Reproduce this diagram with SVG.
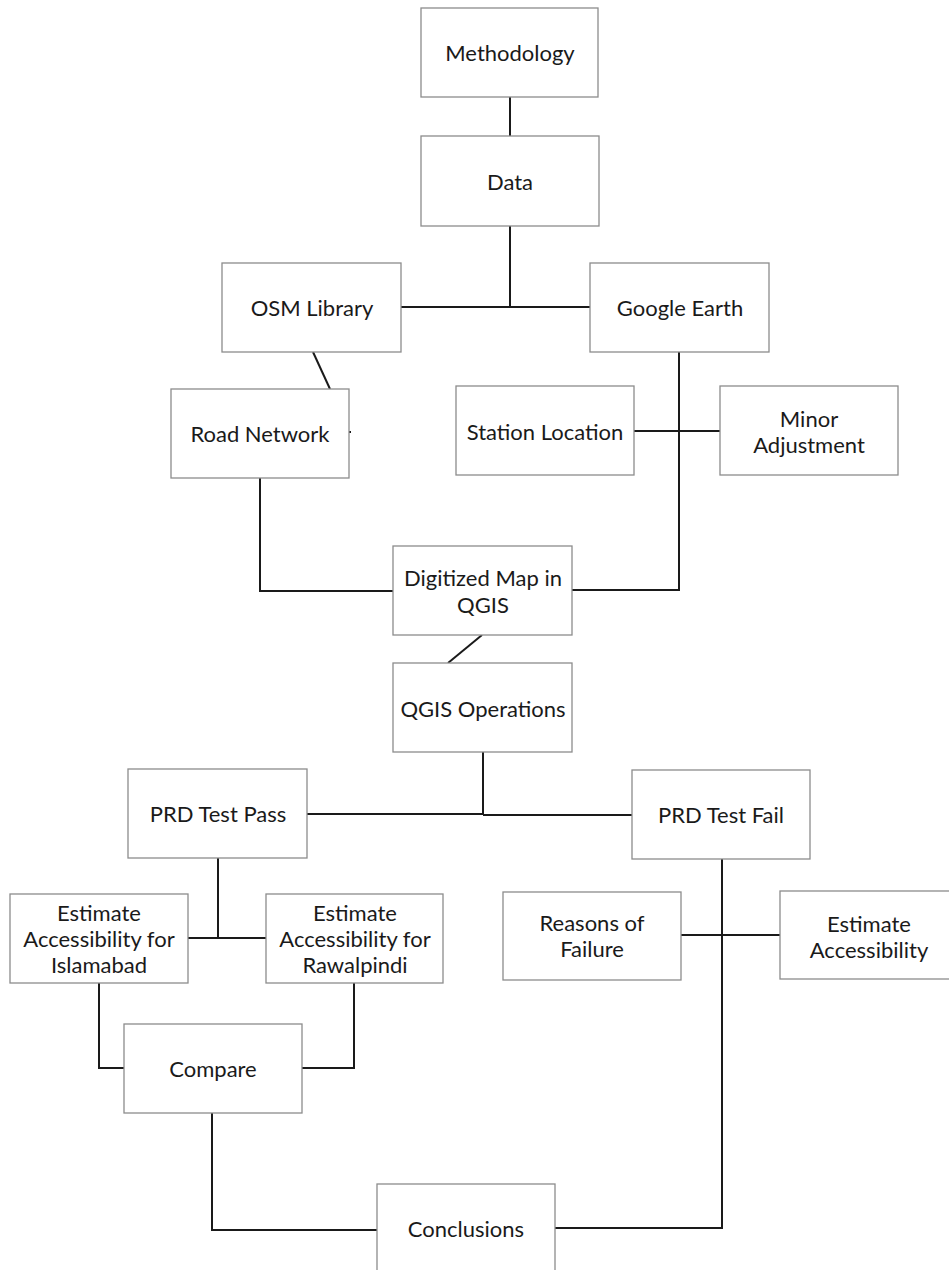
<svg xmlns="http://www.w3.org/2000/svg" width="949" height="1270" viewBox="0 0 949 1270">
<style>
.box{fill:#ffffff;stroke:#8c8c8c;stroke-width:1.3}
.lbl{font-family:Lato,"Open Sans","Liberation Sans",sans-serif;font-size:22px;fill:#1a1a1a;text-anchor:middle;dominant-baseline:central}
.con{fill:none;stroke:#1a1a1a;stroke-width:2;stroke-linejoin:miter}
</style>
<rect width="949" height="1270" fill="#ffffff"/>
<g id="connectors">
<path class="con" d="M510 97V136"/>
<path class="con" d="M510 226V307"/>
<path class="con" d="M401 307H590"/>
<path class="con" d="M313 352L330 389"/>
<path class="con" d="M349 432H351"/>
<path class="con" d="M260 478V591H393"/>
<path class="con" d="M679 352V590H572"/>
<path class="con" d="M634 431H720"/>
<path class="con" d="M482 635L448 663"/>
<path class="con" d="M483 752V815"/>
<path class="con" d="M307 814H483"/>
<path class="con" d="M483 815H632"/>
<path class="con" d="M218 858V938"/>
<path class="con" d="M188 938H266"/>
<path class="con" d="M681 935H780"/>
<path class="con" d="M722 859V1228H555"/>
<path class="con" d="M99 983V1068H124"/>
<path class="con" d="M354 983V1068H302"/>
<path class="con" d="M212 1113V1230H377"/>
</g>
<g id="methodology"><rect class="box" x="421" y="8" width="177" height="89"/><text class="lbl" x="510" y="52">Methodology</text></g>
<g id="data"><rect class="box" x="421" y="136" width="178" height="90"/><text class="lbl" x="510" y="181">Data</text></g>
<g id="osm-library"><rect class="box" x="222" y="263" width="179" height="89"/><text class="lbl" x="312" y="307">OSM Library</text></g>
<g id="google-earth"><rect class="box" x="590" y="263" width="179" height="89"/><text class="lbl" x="680" y="307">Google Earth</text></g>
<g id="road-network"><rect class="box" x="171" y="389" width="178" height="89"/><text class="lbl" x="260" y="433">Road Network</text></g>
<g id="station-location"><rect class="box" x="456" y="386" width="178" height="89"/><text class="lbl" x="545" y="431">Station Location</text></g>
<g id="minor-adjustment"><rect class="box" x="720" y="386" width="178" height="89"/><text class="lbl" x="809" y="418">Minor</text><text class="lbl" x="809" y="444">Adjustment</text></g>
<g id="digitized-map"><rect class="box" x="393" y="546" width="179" height="89"/><text class="lbl" x="483" y="577">Digitized Map in</text><text class="lbl" x="483" y="604">QGIS</text></g>
<g id="qgis-operations"><rect class="box" x="393" y="663" width="179" height="89"/><text class="lbl" x="483" y="708">QGIS Operations</text></g>
<g id="prd-test-pass"><rect class="box" x="128" y="769" width="179" height="89"/><text class="lbl" x="218" y="813">PRD Test Pass</text></g>
<g id="prd-test-fail"><rect class="box" x="632" y="770" width="178" height="89"/><text class="lbl" x="721" y="814">PRD Test Fail</text></g>
<g id="estimate-islamabad"><rect class="box" x="10" y="894" width="178" height="89"/><text class="lbl" x="99" y="912">Estimate</text><text class="lbl" x="99" y="938">Accessibility for</text><text class="lbl" x="99" y="964">Islamabad</text></g>
<g id="estimate-rawalpindi"><rect class="box" x="266" y="894" width="177" height="89"/><text class="lbl" x="355" y="912">Estimate</text><text class="lbl" x="355" y="938">Accessibility for</text><text class="lbl" x="355" y="964">Rawalpindi</text></g>
<g id="reasons-of-failure"><rect class="box" x="503" y="892" width="178" height="88"/><text class="lbl" x="592" y="922">Reasons of</text><text class="lbl" x="592" y="948">Failure</text></g>
<g id="estimate-accessibility"><rect class="box" x="780" y="891" width="178" height="88"/><text class="lbl" x="869" y="923">Estimate</text><text class="lbl" x="869" y="949">Accessibility</text></g>
<g id="compare"><rect class="box" x="124" y="1024" width="178" height="89"/><text class="lbl" x="213" y="1068">Compare</text></g>
<g id="conclusions"><rect class="box" x="377" y="1184" width="178" height="89"/><text class="lbl" x="466" y="1228">Conclusions</text></g>
</svg>
